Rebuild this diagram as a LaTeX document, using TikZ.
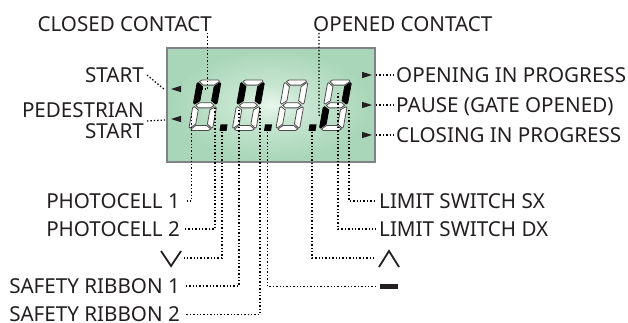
\documentclass[tikz,border=0pt]{standalone}
\usepackage{fontspec}
\setmainfont{Noto Sans}
\definecolor{ink}{HTML}{231F20}
\definecolor{rim}{HTML}{808285}
\definecolor{lcdout}{HTML}{A9D6B8}
\definecolor{lcdmid}{HTML}{C6E5D0}
\definecolor{lcdin}{HTML}{E8F6EC}
\pgfdeclareradialshading{lcdglow}{\pgfpointorigin}{color(0bp)=(lcdin); color(9bp)=(lcdmid); color(24bp)=(lcdout); color(50bp)=(lcdout)}
\tikzset{
  lbl/.style={inner sep=0pt,text height=14.6pt,text depth=0pt,font=\fontsize{20.6}{21}\selectfont,text=ink},
  lblr/.style={lbl,anchor=east},
  lbll/.style={lbl,anchor=west},
  dots/.style={line width=1.25pt,black,dash pattern=on 1.4pt off 2pt},
  symb/.style={line width=1.8pt,ink},
  segoff/.style={fill=white,draw=ink!80!white,line width=.8pt,line join=round},
  seglit/.style={fill=black,draw=black,line width=.8pt,line join=round},
  tri/.style={fill=ink},
}
% #1 x of lower left corner; #2..#8 styles of segments
\newcommand{\lcddigit}[8]{%
\begin{scope}[shift={(#1,130.6)},xslant=.18,x=1.08pt,y=1.01pt]
  \draw[#2] (2,48.5)--(4,50)--(19.5,50)--(20.5,48.5)--(16,45)--(6,45)--cycle;
  \draw[#3] (0,27.5)--(1.2,26.3)--(5.6,29.5)--(5.6,43.5)--(1,47.5)--(0,46.5)--cycle;
  \draw[#4] (22,27.5)--(20.8,26.3)--(16.4,29.5)--(16.4,43.5)--(21,47.5)--(22,46.5)--cycle;
  \draw[#5] (2.5,25)--(5.5,27.5)--(16.5,27.5)--(19.5,25)--(16.5,22.5)--(5.5,22.5)--cycle;
  \draw[#6] (0,22.5)--(1.2,23.7)--(5.6,20.5)--(5.6,6.5)--(1,2.5)--(0,3.5)--cycle;
  \draw[#7] (22,22.5)--(20.8,23.7)--(16.4,20.5)--(16.4,6.5)--(21,2.5)--(22,3.5)--cycle;
  \draw[#8] (2,1.5)--(4,0)--(18,0)--(20.5,1.5)--(16,5)--(6,5)--cycle;
\end{scope}}
\begin{document}
\begin{tikzpicture}[x=1pt,y=-1pt]
\useasboundingbox (0,0) rectangle (628,323);
% panel
\shade[shading=lcdglow] (167,48) rectangle (375,162);
\draw[rim,line width=2pt] (167,48) rectangle (375,162);
% digits
\lcddigit{188.5}{segoff}{seglit}{seglit}{segoff}{segoff}{segoff}{segoff}
\lcddigit{232}{segoff}{seglit}{seglit}{segoff}{segoff}{segoff}{segoff}
\lcddigit{275.5}{segoff}{segoff}{segoff}{segoff}{segoff}{segoff}{segoff}
\lcddigit{319}{segoff}{segoff}{seglit}{segoff}{seglit}{segoff}{segoff}
% decimal points
\fill[black] (220.5,124.5)--(227.5,124.5)--(226.5,131)--(219.5,131)--cycle;
\fill[black] (265,124.5)--(272,124.5)--(271,131)--(264,131)--cycle;
\fill[black] (309.5,124.5)--(316.5,124.5)--(315.5,131)--(308.5,131)--cycle;
% indicator triangles
\fill[tri] (171,89)--(181,85.8)--(181,92.2)--cycle;
\fill[tri] (171,119)--(181,115.8)--(181,122.2)--cycle;
\fill[tri] (372,75)--(362,71.8)--(362,78.2)--cycle;
\fill[tri] (372,105)--(362,101.8)--(362,108.2)--cycle;
\fill[tri] (372,135)--(362,131.8)--(362,138.2)--cycle;
% labels
\node[lblr] (closed) at (212,24) {CLOSED CONTACT};
\node[lbll] (opened) at (313,24) {OPENED CONTACT};
\node[lblr] (start) at (144,75) {START};
\node[inner sep=0pt,align=right,anchor=east,text=ink,font=\fontsize{20.6}{21}\selectfont] (ped) at (144,121) {PEDESTRIAN\\START};
\node[lbll] (opening) at (396,75) {OPENING IN PROGRESS};
\node[lbll] (pause) at (396,105) {PAUSE (GATE OPENED)};
\node[lbll] (closing) at (396,135) {CLOSING IN PROGRESS};
\node[lblr] (ph1) at (180,201) {PHOTOCELL 1};
\node[lblr] (ph2) at (180,229) {PHOTOCELL 2};
\node[lblr] (sr1) at (180,286) {SAFETY RIBBON 1};
\node[lblr] (sr2) at (180,314.5) {SAFETY RIBBON 2};
\node[lbll] (lsx) at (379,201) {LIMIT SWITCH SX};
\node[lbll] (ldx) at (379,229) {LIMIT SWITCH DX};
% symbols
\coordinate (vsym) at (181,258);
\coordinate (usym) at (379,258);
\coordinate (msym) at (379,286.5);
\draw[symb] (161,251)--(171,266)--(181,251);
\draw[symb] (379,267)--(389,251)--(399,267);
\fill[ink] (380,284)rectangle(398,289);
% connector ends on the display
\coordinate (cTop) at (207.7,33);
\coordinate (cEnd) at (197,89);
\coordinate (oTop) at (319,33);
\coordinate (oEnd) at (323,118);
\coordinate (tStart) at (165,90);
\coordinate (tPed) at (165,120);
\coordinate (tOpen) at (376,75);
\coordinate (tPause) at (376,105);
\coordinate (tClose) at (376,135);
\coordinate (aPh1) at (191.7,113);
\coordinate (aPh2) at (215,108);
\coordinate (aV) at (222,132);
\coordinate (aS1) at (239,110);
\coordinate (aS2) at (260,108);
\coordinate (aM) at (267.5,132);
\coordinate (aU) at (312,132);
\coordinate (aDX) at (338,93);
\coordinate (aSX) at (349,110);
% connectors
\draw[dots] (cTop) |- (cEnd);
\draw[dots] (oTop) -- (319,115) -- (oEnd);
\draw[dots] ([xshift=3pt]start.east) -- (tStart);
\draw[dots] ([xshift=3pt]ped.east) -- (tPed);
\draw[dots] (tOpen) -- ([xshift=-1pt]opening.west);
\draw[dots] (tPause) -- ([xshift=-1pt]pause.west);
\draw[dots] (tClose) -- ([xshift=-1pt]closing.west);
\draw[dots] (aPh1) |- ([xshift=5pt]ph1.east);
\draw[dots] (aPh2) |- ([xshift=5pt]ph2.east);
\draw[dots] (aV) |- ([xshift=3pt]vsym);
\draw[dots] (aS1) |- ([xshift=5pt]sr1.east);
\draw[dots] (aS2) |- ([xshift=5pt]sr2.east);
\draw[dots] (aM) |- ([xshift=-4pt]msym);
\draw[dots] (aU) |- ([xshift=-4pt]usym);
\draw[dots] (aDX) |- ([xshift=-3pt]ldx.west);
\draw[dots] (aSX) |- ([xshift=-3pt]lsx.west);
\end{tikzpicture}
\end{document}
